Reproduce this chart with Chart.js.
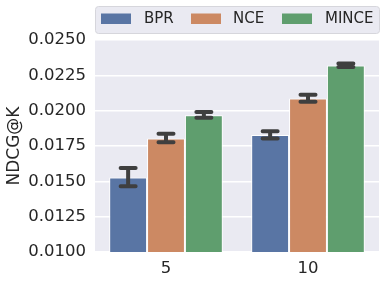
<!DOCTYPE html>
<html>
<head>
<meta charset="utf-8">
<script src="https://cdn.jsdelivr.net/npm/chart.js"></script>
<style>
html,body{margin:0;padding:0;background:#fff;}
#wrap{width:386px;height:281px;}
</style>
</head>
<body>
<div id="wrap"><canvas id="c" width="386" height="281"></canvas></div>
<script>
const categories = ["5", "10"];
const seriesNames = ["BPR", "NCE", "MINCE"];
const bprValues = [0.01527, 0.01828];
const nceValues = [0.01803, 0.02086];
const minceValues = [0.01968, 0.02319];
const bprLow = [0.01466, 0.01803];
const bprHigh = [0.01594, 0.01854];
const nceLow = [0.01777, 0.02063];
const nceHigh = [0.01837, 0.02112];
const minceLow = [0.01949, 0.02309];
const minceHigh = [0.01990, 0.02333];
const yTicks = [0.0100, 0.0125, 0.0150, 0.0175, 0.0200, 0.0225, 0.0250];

const colors = ["#5975a4", "#cc8963", "#5f9e6e"];
const FONT = "'DejaVu Sans', sans-serif";
const TXT = "#262626";

const errData = [[bprLow, bprHigh], [nceLow, nceHigh], [minceLow, minceHigh]];

const bgPlugin = {
  id: 'bg',
  beforeDraw(chart) {
    const {ctx, chartArea: a} = chart;
    ctx.save();
    ctx.fillStyle = '#eaeaf2';
    ctx.fillRect(a.left, a.top, a.right - a.left, a.bottom - a.top);
    ctx.restore();
  }
};

const errPlugin = {
  id: 'err',
  afterDatasetsDraw(chart) {
    const ctx = chart.ctx;
    const ys = chart.scales.y;
    ctx.save();
    ctx.strokeStyle = '#3f3f3f';
    ctx.lineWidth = 4;
    ctx.lineCap = 'round';
    chart.data.datasets.forEach((ds, di) => {
      const meta = chart.getDatasetMeta(di);
      meta.data.forEach((bar, i) => {
        const x = bar.x;
        const lo = ys.getPixelForValue(errData[di][0][i]);
        const hi = ys.getPixelForValue(errData[di][1][i]);
        const hw = 7.5;
        ctx.beginPath();
        ctx.moveTo(x, lo); ctx.lineTo(x, hi);
        ctx.moveTo(x - hw, lo); ctx.lineTo(x + hw, lo);
        ctx.moveTo(x - hw, hi); ctx.lineTo(x + hw, hi);
        ctx.stroke();
      });
    });
    ctx.restore();
  }
};

const legendPlugin = {
  id: 'customLegend',
  afterDraw(chart) {
    const ctx = chart.ctx;
    ctx.save();
    const x0 = 95.5, y0 = 6.5, w = 284, h = 27, r = 3;
    ctx.beginPath();
    ctx.moveTo(x0 + r, y0);
    ctx.arcTo(x0 + w, y0, x0 + w, y0 + h, r);
    ctx.arcTo(x0 + w, y0 + h, x0, y0 + h, r);
    ctx.arcTo(x0, y0 + h, x0, y0, r);
    ctx.arcTo(x0, y0, x0 + w, y0, r);
    ctx.closePath();
    ctx.fillStyle = '#eaeaf2';
    ctx.fill();
    ctx.strokeStyle = '#d6d6dc';
    ctx.lineWidth = 1;
    ctx.stroke();
    const boxX = [101, 191, 282];
    const textX = [144, 233, 325];
    ctx.font = "15px " + FONT;
    ctx.textBaseline = 'middle';
    ctx.textAlign = 'left';
    seriesNames.forEach((n, i) => {
      ctx.fillStyle = colors[i];
      ctx.fillRect(boxX[i], 13.5, 30, 10.5);
      ctx.fillStyle = TXT;
      ctx.fillText(n, textX[i], 19.5);
    });
    ctx.restore();
  }
};

const datasetsVals = [bprValues, nceValues, minceValues];

new Chart(document.getElementById('c'), {
  type: 'bar',
  data: {
    labels: categories,
    datasets: seriesNames.map((n, i) => ({
      label: n,
      data: datasetsVals[i],
      backgroundColor: colors[i],
      borderColor: '#ffffff',
      borderWidth: 1,
      borderSkipped: false,
      categoryPercentage: 0.8,
      barPercentage: 1.0
    }))
  },
  options: {
    responsive: false,
    animation: false,
    devicePixelRatio: 1,
    layout: { padding: { top: 40, right: 7, left: 0, bottom: 0 } },
    plugins: { legend: { display: false }, tooltip: { enabled: false } },
    scales: {
      x: {
        grid: { display: false, drawTicks: false },
        border: { display: false },
        ticks: { color: TXT, font: { family: FONT, size: 16.5 }, padding: 7 },
        afterFit(s) { s.height = 29; }
      },
      y: {
        min: 0.0100,
        max: 0.0250,
        afterBuildTicks(s) { s.ticks = yTicks.map(v => ({ value: v })); },
        grid: { color: '#ffffff', lineWidth: 1.5, drawTicks: false },
        border: { display: false },
        ticks: {
          color: TXT,
          font: { family: FONT, size: 16.5 },
          padding: 9,
          callback: v => Number(v).toFixed(4)
        },
        title: {
          display: true,
          text: 'NDCG@K',
          color: TXT,
          font: { family: FONT, size: 17 },
          padding: { top: 4, bottom: 0 }
        },
        afterFit(s) { s.width = 95; }
      }
    }
  },
  plugins: [bgPlugin, errPlugin, legendPlugin]
});
</script>
</body>
</html>
